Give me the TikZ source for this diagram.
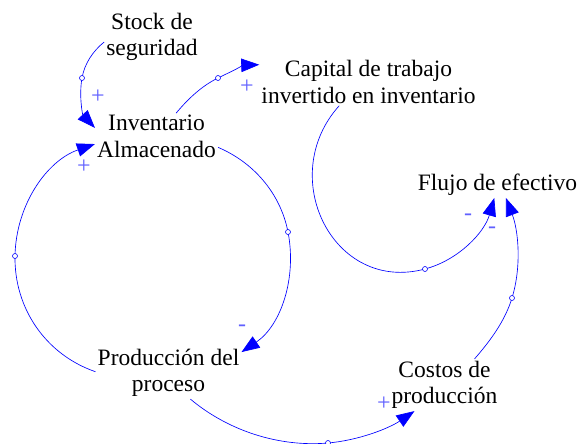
\documentclass[tikz,border=0pt]{standalone}
\usepackage{fontspec}
\setmainfont{Liberation Serif}
\usetikzlibrary{arrows.meta}
\definecolor{linkblue}{RGB}{0,0,255}
\definecolor{signblue}{RGB}{96,96,255}

\begin{document}
\begin{tikzpicture}[x=1pt, y=1pt,
  var/.style={align=center, inner sep=2pt, font=\fontsize{23.5}{26.5}\selectfont},
  link/.style={linkblue, line width=0.65pt, -{Triangle[length=18pt,width=13.5pt]}},
  knob/.style={circle, draw=linkblue, fill=white, line width=0.6pt, inner sep=0pt, minimum size=5pt},
  sgn/.style={signblue, inner sep=0pt, font=\fontsize{24}{24}\selectfont}]
\useasboundingbox (0,0) rectangle (579,-444);
\node[var] (stock) at (152,-37) {Stock de\\seguridad};
\node[var] (inv) at (156.5,-136.5) {Inventario\\Almacenado};
\node[var] (cap) at (368.5,-82) {Capital de trabajo\\invertido en inventario};
\node[var] (flujo) at (497.5,-185) {Flujo de efectivo};
\node[var] (prod) at (168.5,-373) {Producción del\\proceso};
\node[var] (cost) at (444.5,-385) {Costos de\\producción};
\coordinate (h1) at (82,-78);
\coordinate (h2) at (218,-78);
\coordinate (h3) at (288,-232);
\coordinate (h4) at (15,-256);
\coordinate (h5) at (328,-443);
\coordinate (h6) at (425,-269);
\coordinate (h7) at (512,-298);
\draw[link] (stock.186) to[out=219,in=80,looseness=.88] (h1) to[out=260,in=133,looseness=.9] (inv.172);
\draw[link] (inv.50) to[out=50,in=206,looseness=.86] (h2) to[out=26,in=182,looseness=.86] (cap.171);
\draw[link] (inv.-10) to[out=-23,in=101,looseness=.91] (h3) to[out=-79,in=34,looseness=.94] (prod.16);
\draw[link] (prod.179) to[out=161,in=-91,looseness=.95] (h4) to[out=89,in=199,looseness=.95] (inv.187);
\draw[link] (prod.-50) to[out=-40,in=185,looseness=.87] (h5) to[out=5,in=214,looseness=.86] (cost.221);
\draw[link] (cap.219) to[out=228,in=195,looseness=1.32] (h6) to[out=15,in=254,looseness=.91] (flujo.256);
\draw[link] (cost.41) to[out=49,in=253,looseness=.86] (h7) to[out=73,in=291,looseness=.87] (flujo.-57);
\foreach \h in {h1,h2,h3,h4,h5,h6,h7}
  \node[knob] (k\h) at (\h) {};
\foreach \x/\y/\s [count=\i] in {98/97/+, 247/87/+, 84/167/+, 242/328/-, 384/404/+, 468/217/-, 492/230/-}
  \node[sgn] (sign\i) at (\x,-\y) {\s};
\end{tikzpicture}
\end{document}
